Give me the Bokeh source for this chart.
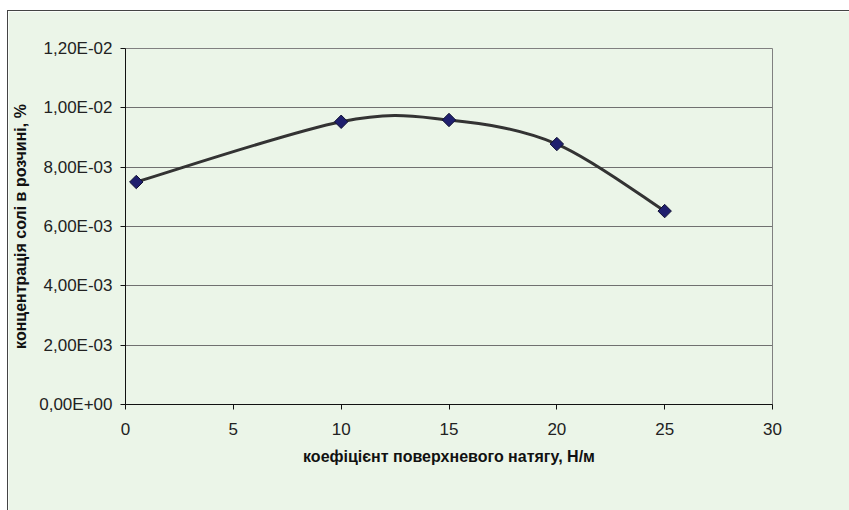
from bokeh.plotting import figure
from bokeh.models import CustomJSTickFormatter, FixedTicker, ColumnDataSource
from bokeh.embed import file_html
from bokeh.resources import INLINE
import numpy as np

# Data
surface_tension = [0.5, 10, 15, 20, 25]
salt_concentration = [0.0075, 0.00953, 0.00959, 0.00878, 0.00652]
x_ticks = [0, 5, 10, 15, 20, 25, 30]
y_ticks = [0, 0.002, 0.004, 0.006, 0.008, 0.010, 0.012]
x_label = "коефіцієнт поверхневого натягу, Н/м"
y_label = "концентрація солі в розчині, %"

BG = "#ebf5e8"
FONT = "Liberation Sans"

p = figure(width=842, height=500, output_backend="svg", toolbar_location=None,
           x_range=(0, 30), y_range=(0, 0.012),
           min_border_left=117, min_border_top=37, min_border_right=78, min_border_bottom=107)
p.margin = (10, 0, 0, 7)
p.styles = {"border-left": "1px solid #444", "border-top": "1px solid #444"}
p.background_fill_color = BG
p.border_fill_color = BG
p.outline_line_color = "#808080"
p.outline_line_width = 1

# Axes
p.xaxis.ticker = FixedTicker(ticks=x_ticks)
p.yaxis.ticker = FixedTicker(ticks=y_ticks)
p.yaxis.formatter = CustomJSTickFormatter(code="""
    const s = tick.toExponential(2).split('e');
    const m = s[0].replace('.', ',');
    let e = parseInt(s[1]);
    const sign = e < 0 ? '-' : '+';
    e = Math.abs(e);
    return m + 'E' + sign + (e < 10 ? '0' + e : '' + e);
""")
for ax in (p.xaxis, p.yaxis):
    ax.axis_line_color = "#111111"
    ax.axis_line_width = 1
    ax.major_tick_line_color = "#111111"
    ax.major_tick_out = 5
    ax.major_tick_in = 0
    ax.minor_tick_line_color = None
    ax.major_label_text_font = FONT
    ax.major_label_text_font_size = "17px"
    ax.major_label_text_color = "#222222"
    ax.axis_label_text_font = FONT
    ax.axis_label_text_font_size = "16px"
    ax.axis_label_text_font_style = "bold"
    ax.axis_label_text_color = "#111111"
p.xaxis.axis_label = x_label
p.yaxis.axis_label = y_label
p.xaxis.major_label_standoff = 13
p.xaxis.axis_label_standoff = 10
p.yaxis.major_label_standoff = 8
p.yaxis.axis_label_standoff = 7

p.xgrid.grid_line_color = None
p.ygrid.grid_line_color = "#707070"
p.ygrid.grid_line_width = 1

# Smoothed line (Catmull-Rom style Bezier segments through the data points)
xs = np.array(surface_tension, dtype=float)
ys = np.array(salt_concentration, dtype=float)
n = len(xs)
px = np.concatenate([[xs[0]], xs, [xs[-1]]])
py = np.concatenate([[ys[0]], ys, [ys[-1]]])
t = 1.0 / 6.0
x0, y0, x1, y1, cx0, cy0, cx1, cy1 = [], [], [], [], [], [], [], []
for i in range(1, n):
    a, b = i, i + 1
    x0.append(px[a]); y0.append(py[a])
    x1.append(px[b]); y1.append(py[b])
    cx0.append(px[a] + (px[b] - px[a - 1]) * t)
    cy0.append(py[a] + (py[b] - py[a - 1]) * t)
    cx1.append(px[b] - (px[b + 1] - px[a]) * t)
    cy1.append(py[b] - (py[b + 1] - py[a]) * t)
p.bezier(x0=x0, y0=y0, x1=x1, y1=y1, cx0=cx0, cy0=cy0, cx1=cx1, cy1=cy1,
         line_color="#333333", line_width=3)

src = ColumnDataSource(dict(x=surface_tension, y=salt_concentration))
p.scatter("x", "y", source=src, marker="square", angle=np.pi / 4, size=9.5,
          fill_color="#1f1f6e", line_color="#111133", line_width=1)

open("out.html", "w").write(file_html(p, INLINE))
